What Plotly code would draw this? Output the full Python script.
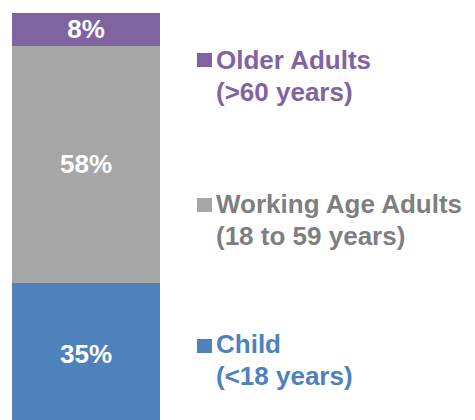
import plotly.graph_objects as go

groups = ["Child", "Working Age Adults", "Older Adults"]
ranges = ["(&lt;18 years)", "(18 to 59 years)", "(&gt;60 years)"]
shares = [35, 58, 8]
bar_colors = ["#4F81BD", "#A6A6A6", "#8064A2"]
text_colors = ["#4F81BD", "#7F7F7F", "#8064A2"]

# page body has an 8px margin, so work in page pixels and shift
OFF = 8
W, H = 475 - OFF, 420 - OFF
TOP = 13 - OFF
BAR_L, BAR_R = 12 - OFF, 160 - OFF
px_per_unit = BAR_R - BAR_L
x0 = -(BAR_L + BAR_R) / 2 / px_per_unit
x1 = x0 + W / px_per_unit

total = sum(shares)
px_per_pct = 4.089
y_lo = total - (H - TOP) / px_per_pct


def xd(px):
    return x0 + (px - OFF) / px_per_unit


def yd(py):
    return total - (py - OFF - TOP) / px_per_pct


FONT = "Arial, Liberation Sans"

fig = go.Figure()
for g, v, c in zip(groups, shares, bar_colors):
    fig.add_trace(go.Bar(
        x=[0], y=[v], name=g, width=1,
        marker=dict(color=c, line=dict(width=0)),
        text=[f"{v}%"], textposition="inside", insidetextanchor="middle",
        textangle=0, constraintext="none",
        textfont=dict(family=FONT, size=26, color="white", weight="bold"),
    ))

# legend-like labels on the right (page pixel rows of each text line)
line1_rows = [344, 204, 60]
line2_rows = [376, 236, 92]
square_rows = [(339, 353), (198, 212), (53, 67)]
for i in range(3):
    fig.add_shape(type="rect", xref="x", yref="y",
                  x0=xd(197), x1=xd(212), y0=yd(square_rows[i][1]), y1=yd(square_rows[i][0]),
                  fillcolor=bar_colors[i], line=dict(width=0))
    for row, txt in [(line1_rows[i], groups[i]), (line2_rows[i], ranges[i])]:
        fig.add_annotation(
            x=xd(214), y=yd(row), xref="x", yref="y",
            xanchor="left", yanchor="middle", align="left", showarrow=False,
            text=f"<b>{txt}</b>",
            font=dict(family=FONT, size=26, color=text_colors[i]),
        )

fig.update_layout(
    width=W, height=H, barmode="stack", showlegend=False,
    margin=dict(l=0, r=0, t=TOP, b=0),
    paper_bgcolor="white", plot_bgcolor="white",
    xaxis=dict(range=[x0, x1], visible=False),
    yaxis=dict(range=[y_lo, total], visible=False),
)
fig.write_html("out.html")
